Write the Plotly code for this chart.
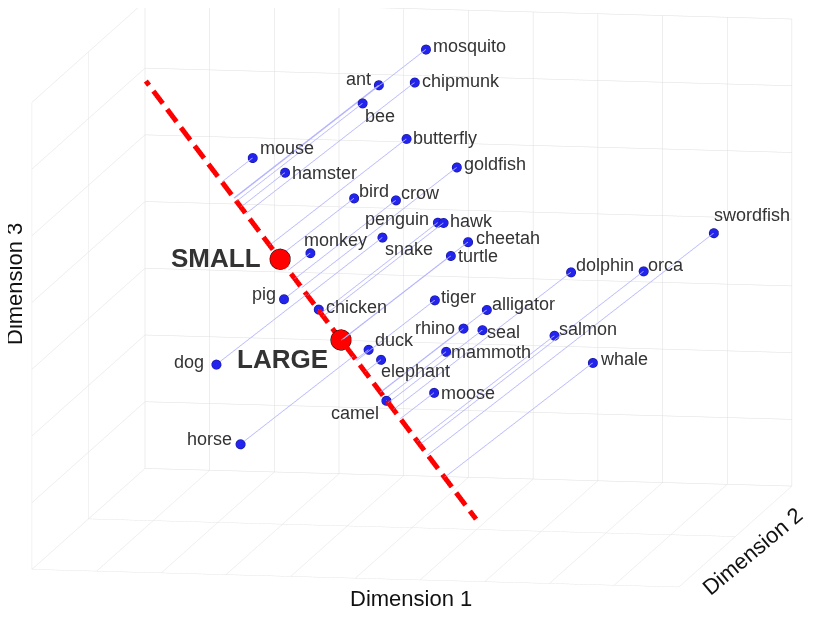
import numpy as np
import plotly.graph_objects as go

# animal embeddings (3 dims)
animals = ["mosquito", "ant", "chipmunk", "bee", "butterfly", "mouse", "hamster",
           "goldfish", "bird", "crow", "penguin", "hawk", "snake", "monkey",
           "cheetah", "turtle", "pig", "chicken", "duck", "elephant", "camel",
           "moose", "dog", "horse", "tiger", "rhino", "seal", "alligator",
           "mammoth", "swordfish", "dolphin", "orca", "salmon", "whale"]
dim1 = [4.37, 3.68, 4.24, 3.45, 4.19, 1.80, 2.33, 5.02, 3.45, 4.11, 4.80, 4.89,
        3.95, 2.84, 5.30, 5.05, 2.49, 3.05, 3.89, 4.10, 4.24, 4.98, 1.52, 2.01,
        4.86, 5.35, 5.65, 5.69, 5.11, 9.15, 6.96, 8.10, 6.79, 7.43]
dim2 = [9.84, 9.62, 9.59, 9.50, 9.15, 9.22, 9.05, 8.85, 8.75, 8.67, 8.43, 8.42,
        8.39, 8.37, 8.24, 8.15, 8.04, 7.91, 7.51, 7.41, 7.08, 7.07, 7.61, 6.94,
        7.82, 7.55, 7.51, 7.67, 7.39, 7.95, 7.85, 7.75, 7.36, 7.09]
dim3 = [6.42, 5.90, 5.96, 5.64, 5.18, 4.82, 4.64, 4.82, 4.33, 4.33, 4.05, 4.05,
        3.81, 3.55, 3.80, 3.60, 2.90, 2.78, 2.26, 2.13, 1.57, 1.71, 1.96, 0.88,
        2.98, 2.61, 2.60, 2.88, 2.28, 4.08, 3.45, 3.51, 2.57, 2.22]

# the SMALL -> LARGE direction
anchor_words = ["SMALL", "LARGE"]
anchor_dim1 = [2.37, 3.44]
anchor_dim2 = [8.37, 7.63]
anchor_dim3 = [3.45, 2.38]

# label placement: side of the dot and pixel nudge
lab_side = ["left", "right", "left", "left", "left", "left", "left", "left", "left",
            "left", "right", "left", "left", "left", "left", "left", "right", "left",
            "left", "left", "right", "left", "right", "right", "left", "right", "left",
            "left", "left", "left", "left", "left", "left", "left"]
lab_dx = [5, -6, 5, 0, 5, 5, 5, 5, 3, 3, -7, 5, 1, -8, 6, 5, -6, 5, 4, -2, -5, 5,
          -10, -6, 4, -6, 3, 3, 3, -2, 3, 2, 3, 5]
lab_dy = [3, 6, 1, -13, 1, 10, 0, 3, 7, 7, 4, 2, -12, 13, 4, 0, 5, 2, 10, -11, -12,
          0, 2, 5, 3, 0, -2, 6, 0, 18, 7, 6, 7, 4]
anchor_side = ["right", "right"]
anchor_dx = [-17, -11]
anchor_dy = [1, -19]

rng = [(0, 10), (0, 10), (0, 7)]

pts = np.column_stack([dim1, dim2, dim3])
S = np.array([anchor_dim1[0], anchor_dim2[0], anchor_dim3[0]])
L = np.array([anchor_dim1[1], anchor_dim2[1], anchor_dim3[1]])
d = L - S

# extend the axis until it leaves the box
lo, hi = -np.inf, np.inf
for i in range(3):
    a = (rng[i][0] - S[i]) / d[i]
    b = (rng[i][1] - S[i]) / d[i]
    lo = max(lo, min(a, b))
    hi = min(hi, max(a, b))

# dashed red axis, built as short solid pieces
n_dash = 24
period = (hi - lo) / n_dash
start = lo - 0.45 * period
rx, ry, rz = [], [], []
for k in range(n_dash + 1):
    a = max(start + k * period, lo)
    b = min(start + k * period + 0.68 * period, hi)
    if b <= a:
        continue
    p0, p1 = S + a * d, S + b * d
    rx += [p0[0], p1[0], None]
    ry += [p0[1], p1[1], None]
    rz += [p0[2], p1[2], None]

# projection of each word onto the axis
t = (pts - S) @ d / (d @ d)
feet = S + np.outer(t, d)
px, py, pz = [], [], []
for p, f in zip(pts, feet):
    px += [p[0], f[0], None]
    py += [p[1], f[1], None]
    pz += [p[2], f[2], None]

fig = go.Figure()

fig.add_trace(go.Scatter3d(
    x=px, y=py, z=pz, mode="lines",
    line=dict(color="#b4b4ff", width=1.5),
    hoverinfo="skip"
))

fig.add_trace(go.Scatter3d(
    x=rx, y=ry, z=rz, mode="lines",
    line=dict(color="red", width=10),
    hoverinfo="skip"
))

fig.add_trace(go.Scatter3d(
    x=dim1, y=dim2, z=dim3, mode="markers",
    marker=dict(size=5.5, color="#2323ee", line=dict(color="#101080", width=1)),
    hovertext=animals, hoverinfo="text"
))

fig.add_trace(go.Scatter3d(
    x=anchor_dim1, y=anchor_dim2, z=anchor_dim3, mode="markers",
    marker=dict(size=12, color="red", line=dict(color="black", width=1)),
    hovertext=anchor_words, hoverinfo="text"
))

lab_font = dict(family="Liberation Sans, Arial", size=18, color="#333333")
big_font = dict(family="Liberation Sans, Arial", size=26, color="#333333")

scene_ann = []
for i, name in enumerate(animals):
    scene_ann.append(dict(
        x=dim1[i], y=dim2[i], z=dim3[i], text=name, showarrow=False,
        xanchor=lab_side[i], yanchor="middle",
        xshift=lab_dx[i], yshift=lab_dy[i], font=lab_font
    ))
for i, w in enumerate(anchor_words):
    scene_ann.append(dict(
        x=anchor_dim1[i], y=anchor_dim2[i], z=anchor_dim3[i], text="<b>" + w + "</b>",
        showarrow=False, xanchor=anchor_side[i], yanchor="middle",
        xshift=anchor_dx[i], yshift=anchor_dy[i], font=big_font
    ))

def ax(r, dt):
    return dict(
        title=dict(text=""),
        range=list(r), dtick=dt, tick0=0,
        showticklabels=False, ticks="",
        showgrid=True, gridcolor="#dedede", gridwidth=1,
        zeroline=False, showline=False, showbackground=False,
        showspikes=False,
    )

title_font = dict(family="Liberation Sans, Arial", size=22, color="#111111")

zoom = 2.115
view = np.array([0.17, -0.973, 0.156])
look = np.array([0.01, 0.0, -0.079])
eye = look + view * 1.3

fig.update_layout(
    width=814, height=621,
    margin=dict(l=0, r=0, t=0, b=0),
    paper_bgcolor="white",
    showlegend=False,
    scene=dict(
        xaxis=ax(rng[0], 1),
        yaxis=ax(rng[1], 5),
        zaxis=ax(rng[2], 1),
        aspectmode="manual",
        aspectratio=dict(x=1 * zoom, y=1 * zoom, z=0.72 * zoom),
        camera=dict(
            projection=dict(type="orthographic"),
            eye=dict(x=eye[0], y=eye[1], z=eye[2]),
            up=dict(x=0, y=0, z=1),
            center=dict(x=look[0], y=look[1], z=look[2]),
        ),
        annotations=scene_ann,
    ),
    annotations=[
        dict(text="Dimension 1", x=403 / 814, y=1 - 590 / 621, xref="paper", yref="paper",
             xanchor="center", yanchor="middle", showarrow=False, font=title_font),
        dict(text="Dimension 2", x=744 / 814, y=1 - 543 / 621, xref="paper", yref="paper",
             xanchor="center", yanchor="middle", showarrow=False, font=title_font,
             textangle=-40),
        dict(text="Dimension 3", x=6 / 814, y=1 - 276 / 621, xref="paper", yref="paper",
             xanchor="center", yanchor="middle", showarrow=False, font=title_font,
             textangle=-90),
    ],
)

fig.write_html("out.html")
